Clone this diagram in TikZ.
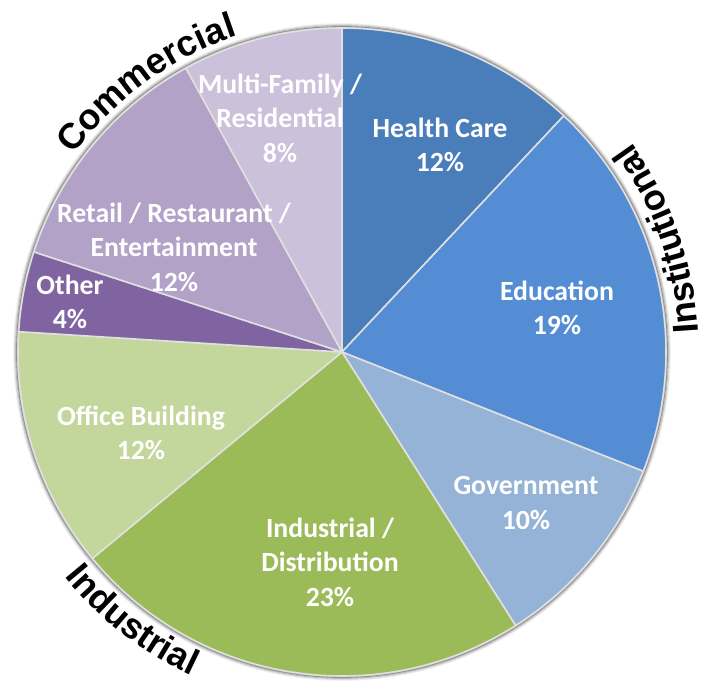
\documentclass[tikz,border=0pt]{standalone}
\usepackage{fontspec}
\usetikzlibrary{decorations.text}
\newfontfamily\slicefont{Carlito}
\newfontfamily\groupfont{Liberation Sans}
\definecolor{healthblue}{RGB}{74,126,187}
\definecolor{edublue}{RGB}{84,141,212}
\definecolor{govblue}{RGB}{149,179,215}
\definecolor{indgreen}{RGB}{155,187,89}
\definecolor{offgreen}{RGB}{195,214,155}
\definecolor{othpurple}{RGB}{128,100,162}
\definecolor{retpurple}{RGB}{179,162,199}
\definecolor{respurple}{RGB}{204,193,218}

\begin{document}
\begin{tikzpicture}[x=0.02cm,y=0.02cm]
    \tikzstyle{every node}=[font=\slicefont\bfseries\fontsize{15.8}{19.6}\selectfont, text=white, align=center]
    \tikzstyle{slice}=[draw=black!12, line width=0.9pt, line join=round]
    \tikzstyle{grouplabel}=[decorate, decoration={text along path, text align=center, text color=black, text={|\groupfont\bfseries\fontsize{20.5}{24}\selectfont|#1}}]
    \useasboundingbox (-342,-334) rectangle (364,352);
    \begin{scope}

       % soft edge round the pie
       \foreach\i/\o in {1/0.30,2/0.18,3/0.10,4/0.05}{
            \draw[black, opacity=\o, line width=1pt] (0,0) circle[radius=324+\i];
        }

           \filldraw[healthblue,slice] (0,0) -- (90:324) arc[start angle=90, end angle=46.8, radius=324] -- cycle;
           \filldraw[edublue,slice] (0,0) -- (46.8:324) arc[start angle=46.8, end angle=-21.6, radius=324] -- cycle;
           \filldraw[govblue,slice] (0,0) -- (-21.6:324) arc[start angle=-21.6, end angle=-57.6, radius=324] -- cycle;
           \filldraw[indgreen,slice] (0,0) -- (-57.6:324) arc[start angle=-57.6, end angle=-140.4, radius=324] -- cycle;
           \filldraw[offgreen,slice] (0,0) -- (-140.4:324) arc[start angle=-140.4, end angle=-183.6, radius=324] -- cycle;
           \filldraw[othpurple,slice] (0,0) -- (176.4:324) arc[start angle=176.4, end angle=162, radius=324] -- cycle;
           \filldraw[retpurple,slice] (0,0) -- (162:324) arc[start angle=162, end angle=118.8, radius=324] -- cycle;
           \filldraw[respurple,slice] (0,0) -- (118.8:324) arc[start angle=118.8, end angle=90, radius=324] -- cycle;

           \node (health) at (98,207) {Health Care\\12\%};
           \node (edu) at (215,44) {Education\\19\%};
           \node (gov) at (184,-151) {Government\\10\%};
           \node (ind) at (-12,-210) {Industrial /\\Distribution\\23\%};
           \node (office) at (-201,-81) {Office Building\\12\%};
           \node (other) at (-272,50) {Other\\4\%};
           \node (retail) at (-168,105) {Retail / Restaurant /\\Entertainment\\12\%};
           \node (resid) at (-62,234) {Multi-Family /\\Residential\\8\%};

           % group names round the rim
           \path[grouplabel=Commercial] (151:333) arc[start angle=151, end angle=101, radius=333];
           \path[grouplabel=Institutional] (-15.5:357) arc[start angle=-15.5, end angle=54.5, radius=357];
           \path[grouplabel=Industrial] (-158:357) arc[start angle=-158, end angle=-98, radius=357];

     \end{scope}
  \end{tikzpicture}
\end{document}
